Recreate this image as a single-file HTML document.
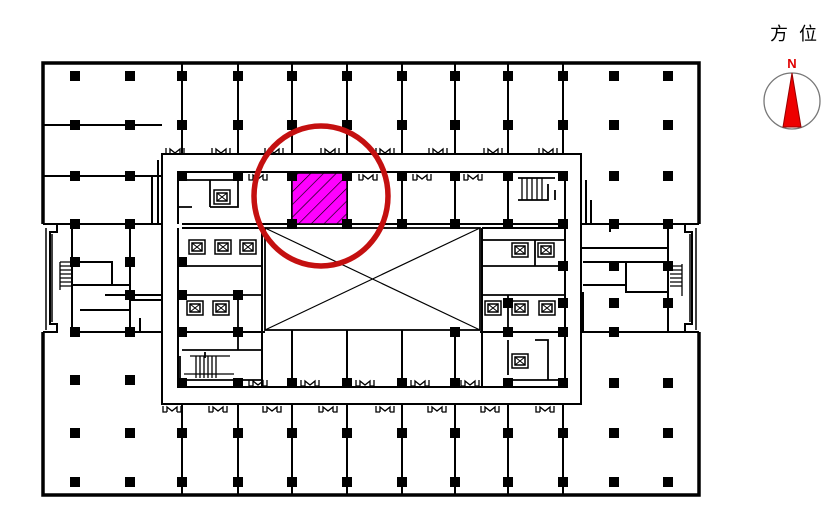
<!DOCTYPE html>
<html><head><meta charset="utf-8"><style>
html,body{margin:0;padding:0;background:#fff;width:838px;height:528px;overflow:hidden}
svg{display:block}
.t{font-family:"Liberation Sans","Noto Sans CJK TC",sans-serif}
</style></head><body>
<svg width="838" height="528" viewBox="0 0 838 528" xmlns="http://www.w3.org/2000/svg">
<defs>
<rect id="c" x="-5" y="-5" width="10" height="10" fill="#000"/>
<g id="d" fill="none" stroke="#000" stroke-width="1.3"><path d="M-9 0 V6 H-5 M-5 6 V1 L0 5 L5 1 V6 M5 6 H9 V0"/></g>
<g id="e" fill="none" stroke="#000" stroke-width="1.5"><rect x="-8" y="-7" width="16" height="14"/><rect x="-5" y="-4" width="10" height="8"/><path d="M-5 -4 L5 4 M-5 4 L5 -4" stroke-width="1"/></g>
<pattern id="h" width="9" height="9" patternUnits="userSpaceOnUse" patternTransform="rotate(45)"><rect width="9" height="9" fill="#ff00ff"/><line x1="0" y1="0" x2="0" y2="9" stroke="#000" stroke-width="1.3"/></pattern>
</defs>
<g stroke="#000" fill="none">
<!-- outer walls -->
<path d="M43 224 V63 H699 V224" stroke-width="3.5"/>
<path d="M43 332 V495 H699 V332" stroke-width="3.5"/>
<!-- wings -->
<path d="M43 224 H57 V232 H50 V324 H57 V332 H43" stroke-width="2"/>
<path d="M46 228 V330 M52 234 V322" stroke-width="1.5"/>
<path d="M699 224 H685 V232 H692 V324 H685 V332 H699" stroke-width="2"/>
<path d="M696 228 V330 M690 234 V322" stroke-width="1.5"/>
<!-- left wing rooms -->
<path d="M43 125 H162 M43 176 H162 M43 224 H162 M72 224 V332 M130 224 V332 M72 262 H112 V285 H130 M72 285 H112 M105 295 H162 M80 310 H130 M72 332 H162 M152 176 V224 M158 160 V224 M130 300 H162 M140 318 V332" stroke-width="2"/>
<path d="M60 262 H72 M60 266 H72 M60 270 H72 M60 274 H72 M60 278 H72 M60 282 H72 M60 286 H72 M60 262 V290" stroke-width="1.3"/>
<!-- right wing rooms -->
<path d="M581 224 H699 M581 332 H699 M668 224 V332 M610 224 V232 M581 248 H668 M610 262 H668 M583 262 H626 V292 H668 M583 285 H626 M583 292 V332 M591 200 V224 M586 180 V224" stroke-width="2"/>
<path d="M670 266 H682 M670 270 H682 M670 274 H682 M670 278 H682 M670 282 H682 M670 286 H682 M682 264 V296" stroke-width="1.3"/>
<!-- top verticals -->
<path d="M182 63 V154 M238 63 V154 M292 63 V154 M347 63 V154 M402 63 V154 M455 63 V154 M508 63 V154 M563 63 V154" stroke-width="2"/>
<!-- bottom verticals -->
<path d="M182 404 V495 M238 404 V495 M292 404 V495 M347 404 V495 M402 404 V495 M455 404 V495 M508 404 V495 M563 404 V495" stroke-width="2"/>
<!-- core -->
<rect x="162" y="154" width="419" height="250" stroke-width="2"/>
<path d="M178 172 H565 M178 387 H565 M178 172 V224 M565 172 V224 M178 228 V387 M565 228 V387" stroke-width="2"/>
<path d="M292 172 V224 M347 172 V224 M402 172 V224 M455 172 V224 M508 172 V224 M182 224 H565 M182 228 H262 M482 228 H565" stroke-width="2"/>
<rect x="265" y="228" width="215" height="102" stroke-width="1.8"/>
<path d="M265 228 L480 330 M480 228 L265 330" stroke-width="1.2"/>
<path d="M292 330 V387 M347 330 V387 M402 330 V387 M455 330 V387 M182 332 H265 M480 332 H565 M262 228 V387 M482 228 V387" stroke-width="2"/>
<!-- core left rooms -->
<path d="M178 207 H192 M210 207 H238 V180 H178 M210 207 V180 M182 266 H262 M182 295 H262 M238 295 V332 M182 350 H262 M182 380 H262 M205 352 V358 M238 332 V350 M180 356 V382" stroke-width="1.8"/>
<path d="M190 356 H230 M196 356 V378 M200 356 V378 M204 356 V378 M208 356 V378 M212 356 V378 M216 356 V378 M184 374 H234" stroke-width="1.3"/>
<!-- core right rooms -->
<path d="M482 240 H565 M482 266 H565 M482 295 H565 M508 295 V332 M508 340 V375 M535 340 H548 V380 M508 380 H563 M535 240 V266 M508 172 V224 M518 200 H548 V184 M518 178 H555 M555 200 V190" stroke-width="1.8"/>
<path d="M522 178 V200 M527 178 V200 M532 178 V200 M537 178 V200 M542 178 V200" stroke-width="1.3"/>
</g>
<!-- elevators -->
<use href="#e" x="222" y="197"/>
<use href="#e" x="197" y="247"/><use href="#e" x="223" y="247"/><use href="#e" x="248" y="247"/>
<use href="#e" x="195" y="308"/><use href="#e" x="221" y="308"/>
<use href="#e" x="520" y="250"/><use href="#e" x="546" y="250"/>
<use href="#e" x="493" y="308"/><use href="#e" x="520" y="308"/><use href="#e" x="547" y="308"/>
<use href="#e" x="520" y="361"/>
<!-- doors -->
<g>
<use href="#d" x="175" y="148"/><use href="#d" x="221" y="148"/><use href="#d" x="274" y="148"/><use href="#d" x="330" y="148"/><use href="#d" x="385" y="148"/><use href="#d" x="438" y="148"/><use href="#d" x="493" y="148"/><use href="#d" x="548" y="148"/>
<use href="#d" x="258" y="174"/><use href="#d" x="313" y="174"/><use href="#d" x="368" y="174"/><use href="#d" x="422" y="174"/><use href="#d" x="473" y="174"/>
<use href="#d" x="258" y="380" transform="rotate(0)"/><use href="#d" x="310" y="380"/><use href="#d" x="365" y="380"/><use href="#d" x="420" y="380"/><use href="#d" x="470" y="380"/>
<use href="#d" x="172" y="406"/><use href="#d" x="218" y="406"/><use href="#d" x="272" y="406"/><use href="#d" x="328" y="406"/><use href="#d" x="385" y="406"/><use href="#d" x="437" y="406"/><use href="#d" x="490" y="406"/><use href="#d" x="545" y="406"/>
</g>
<!-- columns -->
<g>
<use href="#c" x="75" y="76"/><use href="#c" x="130" y="76"/><use href="#c" x="182" y="76"/><use href="#c" x="238" y="76"/><use href="#c" x="292" y="76"/><use href="#c" x="347" y="76"/><use href="#c" x="402" y="76"/><use href="#c" x="455" y="76"/><use href="#c" x="508" y="76"/><use href="#c" x="563" y="76"/><use href="#c" x="614" y="76"/><use href="#c" x="668" y="76"/>
<use href="#c" x="75" y="125"/><use href="#c" x="130" y="125"/><use href="#c" x="182" y="125"/><use href="#c" x="238" y="125"/><use href="#c" x="292" y="125"/><use href="#c" x="347" y="125"/><use href="#c" x="402" y="125"/><use href="#c" x="455" y="125"/><use href="#c" x="508" y="125"/><use href="#c" x="563" y="125"/><use href="#c" x="614" y="125"/><use href="#c" x="668" y="125"/>
<use href="#c" x="75" y="176"/><use href="#c" x="130" y="176"/><use href="#c" x="182" y="176"/><use href="#c" x="238" y="176"/><use href="#c" x="292" y="176"/><use href="#c" x="347" y="176"/><use href="#c" x="402" y="176"/><use href="#c" x="455" y="176"/><use href="#c" x="508" y="176"/><use href="#c" x="563" y="176"/><use href="#c" x="614" y="176"/><use href="#c" x="668" y="176"/>
<use href="#c" x="75" y="224"/><use href="#c" x="130" y="224"/><use href="#c" x="292" y="224"/><use href="#c" x="347" y="224"/><use href="#c" x="402" y="224"/><use href="#c" x="455" y="224"/><use href="#c" x="508" y="224"/><use href="#c" x="563" y="224"/><use href="#c" x="614" y="224"/><use href="#c" x="668" y="224"/>
<use href="#c" x="75" y="262"/><use href="#c" x="130" y="262"/><use href="#c" x="182" y="262"/><use href="#c" x="563" y="266"/><use href="#c" x="614" y="266"/><use href="#c" x="668" y="266"/>
<use href="#c" x="130" y="295"/><use href="#c" x="182" y="295"/><use href="#c" x="238" y="295"/><use href="#c" x="508" y="303"/><use href="#c" x="563" y="303"/><use href="#c" x="614" y="303"/><use href="#c" x="668" y="303"/>
<use href="#c" x="75" y="332"/><use href="#c" x="130" y="332"/><use href="#c" x="182" y="332"/><use href="#c" x="238" y="332"/><use href="#c" x="455" y="332"/><use href="#c" x="508" y="332"/><use href="#c" x="563" y="332"/><use href="#c" x="614" y="332"/>
<use href="#c" x="75" y="380"/><use href="#c" x="130" y="380"/><use href="#c" x="182" y="383"/><use href="#c" x="238" y="383"/><use href="#c" x="292" y="383"/><use href="#c" x="347" y="383"/><use href="#c" x="402" y="383"/><use href="#c" x="455" y="383"/><use href="#c" x="508" y="383"/><use href="#c" x="563" y="383"/><use href="#c" x="614" y="383"/><use href="#c" x="668" y="383"/>
<use href="#c" x="75" y="433"/><use href="#c" x="130" y="433"/><use href="#c" x="182" y="433"/><use href="#c" x="238" y="433"/><use href="#c" x="292" y="433"/><use href="#c" x="347" y="433"/><use href="#c" x="402" y="433"/><use href="#c" x="455" y="433"/><use href="#c" x="508" y="433"/><use href="#c" x="563" y="433"/><use href="#c" x="614" y="433"/><use href="#c" x="668" y="433"/>
<use href="#c" x="75" y="482"/><use href="#c" x="130" y="482"/><use href="#c" x="182" y="482"/><use href="#c" x="238" y="482"/><use href="#c" x="292" y="482"/><use href="#c" x="347" y="482"/><use href="#c" x="402" y="482"/><use href="#c" x="455" y="482"/><use href="#c" x="508" y="482"/><use href="#c" x="563" y="482"/><use href="#c" x="614" y="482"/><use href="#c" x="668" y="482"/>
</g>
<!-- highlighted room -->
<rect x="292" y="173" width="55" height="51" fill="url(#h)" stroke="#000" stroke-width="1.5"/>
<use href="#c" x="292" y="176"/><use href="#c" x="347" y="176"/><use href="#c" x="292" y="224"/><use href="#c" x="347" y="224"/>
<!-- red circle -->
<ellipse cx="321" cy="196" rx="67" ry="70" fill="none" stroke="#c41010" stroke-width="5.5"/>
<!-- compass -->
<text x="770" y="40" class="t" font-size="18" fill="#000">方</text>
<text x="799" y="40" class="t" font-size="18" fill="#000">位</text>
<text x="792" y="68" class="t" font-size="13" font-weight="bold" fill="#e00000" text-anchor="middle">N</text>
<circle cx="792" cy="101" r="28" fill="#fff" stroke="#777" stroke-width="1.3"/>
<polygon points="792,73 783,127 801,127" fill="#ee0000" stroke="#900" stroke-width="1"/>
</svg>
</body></html>
